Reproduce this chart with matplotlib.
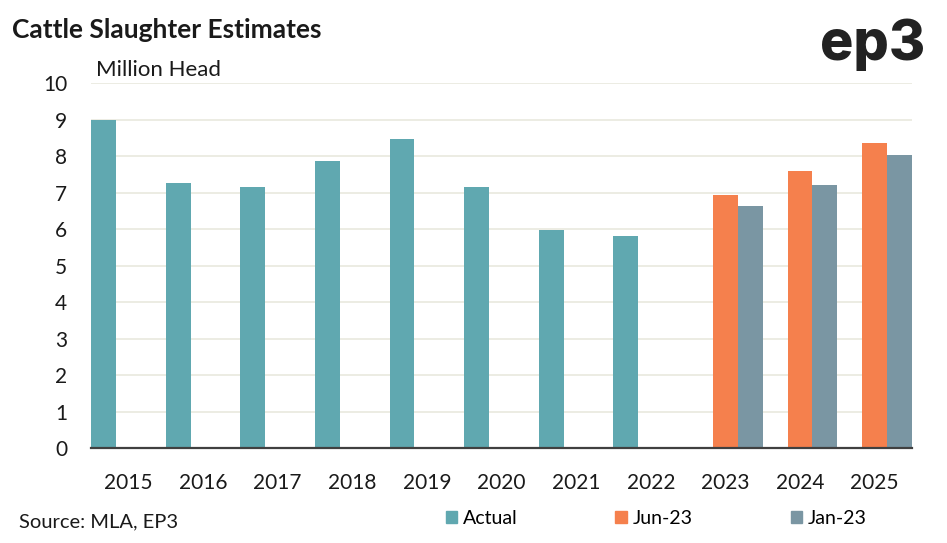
import matplotlib
matplotlib.use('Agg')

import numpy as np
import matplotlib.pyplot as plt
from matplotlib.patches import Patch

# values (million head)
years = ['2015', '2016', '2017', '2018', '2019', '2020', '2021', '2022', '2023', '2024', '2025']
actual = [9.0, 7.27, 7.16, 7.87, 8.47, 7.16, 5.98, 5.81, np.nan, np.nan, np.nan]
jun23 = [np.nan] * 8 + [6.94, 7.60, 8.37]
jan23 = [np.nan] * 8 + [6.64, 7.22, 8.03]

c_actual = '#60a8b0'
c_jun = '#f5804d'
c_jan = '#7a96a3'
grid_col = '#ebebe0'
txt_col = '#1a1a1a'

plt.rcParams['font.family'] = ['Lato', 'DejaVu Sans']

fig = plt.figure(figsize=(9.47, 5.43), dpi=100)
ax = fig.add_axes([91 / 947, 1 - 448 / 543, (912 - 91) / 947, (448 - 83.3) / 543])

x = np.arange(len(years))
w = 1 / 3
ax.bar(x - w, actual, width=w, color=c_actual, zorder=3)
ax.bar(x, jun23, width=w, color=c_jun, zorder=3)
ax.bar(x + w, jan23, width=w, color=c_jan, zorder=3)

ax.set_xlim(-0.5, len(years) - 0.5)
ax.set_ylim(0, 10)
ax.set_yticks(range(0, 11))
ax.set_xticks(x)
ax.set_xticklabels(years)
ax.yaxis.grid(True, color=grid_col, lw=1.3, zorder=0)
ax.set_axisbelow(True)
for s in ['top', 'right', 'left']:
    ax.spines[s].set_visible(False)
ax.spines['bottom'].set_color('#404040')
ax.spines['bottom'].set_linewidth(1.6)
ax.spines['bottom'].set_zorder(4)
ax.tick_params(axis='both', length=0, labelsize=15, colors=txt_col)
ax.tick_params(axis='y', pad=17)
ax.tick_params(axis='x', pad=18)

fig.text(12 / 947, 1 - 30 / 543, 'Cattle Slaughter Estimates', fontsize=19,
         fontweight='bold', color=txt_col, va='center', ha='left')
fig.text(96 / 947, 1 - 70 / 543, 'Million Head', fontsize=16, color=txt_col,
         va='center', ha='left')
fig.text(925 / 947, 1 - 45 / 543, 'ep3', fontsize=40, fontweight='heavy',
         family=['Inter', 'DejaVu Sans'], color='#222222', va='center', ha='right')
fig.text(19 / 947, 1 - 522 / 543, 'Source: MLA, EP3', fontsize=14.5, color=txt_col,
         va='center', ha='left')

handles = [Patch(color=c_actual), Patch(color=c_jun), Patch(color=c_jan)]
fig.legend(handles, ['Actual', 'Jun-23', 'Jan-23'], loc='center',
           bbox_to_anchor=(656 / 947, 1 - 518 / 543), ncol=3, frameon=False,
           fontsize=14, handlelength=0.57, handleheight=0.57, handletextpad=0.3,
           columnspacing=5.05)

fig.savefig('out.png', dpi=100)
